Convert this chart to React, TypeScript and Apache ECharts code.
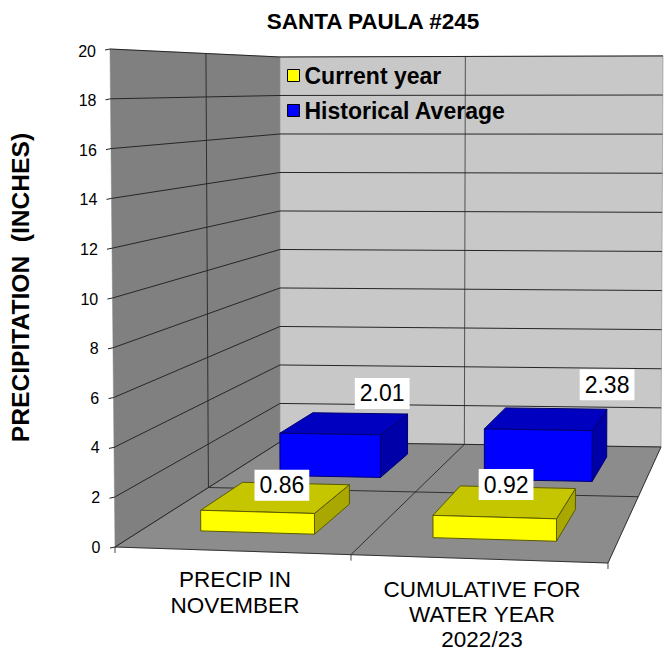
import React, { useEffect, useRef } from "react";
import * as echarts from "echarts";

const categories = ["PRECIP IN\nNOVEMBER", "CUMULATIVE FOR\nWATER YEAR\n2022/23"];
const currentYear = [0.86, 0.92];
const historicalAverage = [2.01, 2.38];
const yTicks = [0, 2, 4, 6, 8, 10, 12, 14, 16, 18, 20];
const FONT = '"Liberation Sans", Arial, sans-serif';

// Oblique projection of the chart box: s runs along the categories, d runs into the depth.
const H = { a: 443.3, b: 250.5, c: 115, d: -30, e: 29.9, f: 547, g: -0.0817, h: 0.3053 };
const VG = -0.02;
const VH = 0.2935;
const GRID = { left: 111.5, top: 51, width: 494, height: 496 };
const WALL_PX = 496;
const project = (s: number, d: number, pxIn: number): [number, number] => {
  const px = pxIn * 1.004;
  const w = 1 + H.g * s + H.h * d;
  const w2 = 1 + VG * s + VH * d;
  const lean = (px / 24.9) * (-0.25 * (1 - d) * (1 - s) + 0.1 * d * s);
  return [(H.a * s + H.b * d + H.c) / w + lean, (H.d * s + H.e * d + H.f) / w - px / w2];
};

const LINE = "#262626";

const wallsItem = () => ({
  type: "group",
  children: [
    { type: "polygon", shape: { points: [project(0, 0, 0), project(0, 0, WALL_PX), project(0, 1, WALL_PX), project(0, 1, 0)] }, style: { fill: "#808080", stroke: "#808080", lineWidth: 0.5 } },
    { type: "polygon", shape: { points: [project(0, 1, 0), project(0, 1, WALL_PX), project(1, 1, WALL_PX), project(1, 1, 0)] }, style: { fill: "#c8c8c8", stroke: "#8a8a8a", lineWidth: 0.6 } },
    { type: "polygon", shape: { points: [project(0, 0, 0), project(1, 0, 0), project(1, 1, 0), project(0, 1, 0)] }, style: { fill: "#8c8c8c", stroke: "#8c8c8c", lineWidth: 0.5 } },
    { type: "polyline", shape: { points: [project(0, 0.5, 0), project(0, 0.5, WALL_PX)] }, style: { fill: "none", stroke: LINE, lineWidth: 0.9 } },
    { type: "polyline", shape: { points: [project(0.5, 1, 0), project(0.5, 1, WALL_PX)] }, style: { fill: "none", stroke: "#444", lineWidth: 0.9 } },
    { type: "polyline", shape: { points: [project(0, 0.5, 0), project(1, 0.5, 0)] }, style: { fill: "none", stroke: LINE, lineWidth: 0.9 } },
    { type: "polyline", shape: { points: [project(0.5, 0, 0), project(0.5, 1, 0)] }, style: { fill: "none", stroke: LINE, lineWidth: 0.9 } },
    { type: "polyline", shape: { points: [project(0, 0, 0), project(0, 1, 0)] }, style: { fill: "none", stroke: "#555", lineWidth: 0.6 } },
    { type: "polyline", shape: { points: [project(0, 0, 0), project(1, 0, 0), project(1, 1, 0)] }, style: { fill: "none", stroke: "#333", lineWidth: 1 } },
    ...[0, 0.5, 1].map((s) => {
      const p = project(s, 0, 0);
      return { type: "polyline", shape: { points: [p, [p[0], p[1] + 6]] }, style: { fill: "none", stroke: "#333", lineWidth: 0.9 } };
    }),
  ],
});

const gridLineItem = (params: any, api: any) => {
  const px = api.size([0, api.value(1)])[1];
  const a = project(0, 0, px);
  return {
    type: "group",
    children: [
      { type: "polyline", shape: { points: [a, project(0, 1, px), project(1, 1, px)] }, style: { fill: "none", stroke: LINE, lineWidth: 1 } },
      { type: "polyline", shape: { points: [[a[0] - 5, a[1] + 1], a] }, style: { fill: "none", stroke: "#222", lineWidth: 1 } },
    ],
  };
};

const makeBar = (d0: number, d1: number, front: string, top: string, side: string, edge: string, labelOffsets: number[][]) =>
  (params: any, api: any) => {
    const cat = api.value(0);
    const val = api.value(1);
    const cs = params.coordSys;
    const cx = api.coord([cat, 0])[0];
    const band = api.size([1, 0])[0];
    const nudge = 0.006;
    const s0 = (cx - band * 0.25 - cs.x) / cs.width + nudge;
    const s1 = (cx + band * 0.25 - cs.x) / cs.width + nudge;
    const px = api.size([0, val])[1];
    const st = { stroke: edge, lineWidth: 1, lineJoin: "round" };
    const tc = project((s0 + s1) / 2, (d0 + d1) / 2, px);
    const off = labelOffsets[cat];
    return {
      type: "group",
      children: [
        { type: "polygon", shape: { points: [project(s1, d0, 0), project(s1, d1, 0), project(s1, d1, px), project(s1, d0, px)] }, style: { fill: side, ...st } },
        { type: "polygon", shape: { points: [project(s0, d0, px), project(s1, d0, px), project(s1, d1, px), project(s0, d1, px)] }, style: { fill: top, ...st } },
        { type: "polygon", shape: { points: [project(s0, d0, 0), project(s1, d0, 0), project(s1, d0, px), project(s0, d0, px)] }, style: { fill: front, ...st } },
        {
          type: "text",
          z2: 50,
          style: {
            text: val.toFixed(2),
            x: tc[0] + off[0],
            y: tc[1] + off[1],
            align: "center",
            verticalAlign: "middle",
            fill: "#000",
            font: `23px ${FONT}`,
            backgroundColor: "#fff",
            padding: [4, 5, 4, 5],
          },
        },
      ],
    };
  };

const labelRich: Record<string, any> = {};
yTicks.forEach((v) => {
  labelRich["t" + v] = { fontFamily: FONT, fontSize: 16, color: "#000", padding: [0, (v / 20) * 4.5, 0, 0] };
});

export default function App() {
  const ref = useRef<HTMLDivElement>(null);
  useEffect(() => {
    const chart = echarts.init(ref.current!, null, { renderer: "svg" });
    chart.setOption({
      animation: false,
      backgroundColor: "#fff",
      title: {
        text: "SANTA PAULA #245",
        left: 368,
        top: 5,
        textAlign: "center",
        textStyle: { fontFamily: FONT, fontSize: 22.5, fontWeight: "bold", color: "#000" },
      },
      legend: {
        orient: "vertical",
        left: 282,
        top: 59,
        itemWidth: 12,
        itemHeight: 12,
        itemGap: 12,
        z: 20,
        selectedMode: false,
        textStyle: { fontFamily: FONT, fontSize: 23, fontWeight: "bold", color: "#000" },
        data: [
          { name: "Current year", icon: "rect", itemStyle: { color: "#ffff00", borderColor: "#000", borderWidth: 1 } },
          { name: "Historical Average", icon: "rect", itemStyle: { color: "#0000ff", borderColor: "#000", borderWidth: 1 } },
        ],
      },
      grid: { ...GRID, show: false, outerBoundsMode: "none" },
      xAxis: {
        type: "category",
        data: [
          { value: categories[0] },
          { value: categories[1], textStyle: { padding: [11, 0, 0, 0], lineHeight: 25 } },
        ],
        axisLine: { show: false },
        axisTick: { show: false },
        splitLine: { show: false },
        axisLabel: { fontFamily: FONT, fontSize: 22.5, color: "#000", lineHeight: 26.5, margin: 19, interval: 0 },
      },
      yAxis: {
        type: "value",
        min: 0,
        max: 20,
        interval: 2,
        name: "PRECIPITATION  (INCHES)",
        nameLocation: "middle",
        nameRotate: 90,
        nameGap: 79,
        nameTextStyle: { fontFamily: FONT, fontSize: 24.6, fontWeight: "bold", color: "#000", padding: [0, 0, 0, 23] },
        axisLine: { show: false },
        axisTick: { show: false },
        splitLine: { show: false },
        axisLabel: {
          margin: 11,
          formatter: (v: number) => `{t${v}|${v}}`,
          rich: labelRich,
        },
      },
      series: [
        { type: "custom", name: "walls", silent: true, z: 1, data: [[0, 0]], encode: { x: 0, y: 1 }, renderItem: wallsItem },
        { type: "custom", name: "gridlines", silent: true, z: 2, data: yTicks.map((v) => [0, v]), encode: { x: 0, y: 1 }, renderItem: gridLineItem },
        {
          type: "custom", name: "Historical Average", silent: true, z: 3,
          itemStyle: { color: "#0000ff" },
          data: historicalAverage.map((v, i) => [i, v]),
          encode: { x: 0, y: 1 },
          renderItem: makeBar(0.63, 0.88, "#0000ff", "#0000c0", "#0000a8", "#000070", [[37, -30], [60, -34]]),
        },
        {
          type: "custom", name: "Current year", silent: true, z: 4,
          itemStyle: { color: "#ffff00" },
          data: currentYear.map((v, i) => [i, v]),
          encode: { x: 0, y: 1 },
          renderItem: makeBar(0.135, 0.38, "#ffff00", "#c6c600", "#a8a800", "#5a5a00", [[5, -12], [0, -17]]),
        },
      ],
    });
    return () => chart.dispose();
  }, []);
  return <div ref={ref} style={{ position: "fixed", left: 0, top: 0, width: 664, height: 652 }} />;
}
